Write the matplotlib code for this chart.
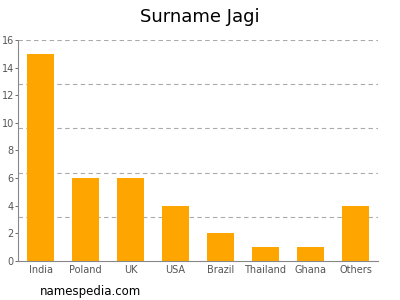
import matplotlib
matplotlib.use("Agg")
import matplotlib.pyplot as plt
import numpy as np

categories = ["India", "Poland", "UK", "USA", "Brazil", "Thailand", "Ghana", "Others"]
values = [15, 6, 6, 4, 2, 1, 1, 4]
yticks = [0, 2, 4, 6, 8, 10, 12, 14, 16]
grid_levels = [3.2, 6.4, 9.6, 12.8, 16]

fig = plt.figure(figsize=(4, 3), dpi=100)
ax = fig.add_axes([0.045, 0.13, 0.9, 0.737])
x = np.arange(len(categories))
ax.bar(x, values, width=0.62, color="#FFA500", zorder=2)
for g in grid_levels:
    ax.axhline(g, color="#AAAAAA", linestyle=(0, (4, 3)), linewidth=0.8, zorder=1)
ax.set_xlim(-0.5, len(categories) - 0.5)
ax.set_ylim(0, 16)
ax.set_yticks(yticks)
ax.set_xticks(x)
ax.set_xticklabels(categories)
ax.tick_params(axis="both", labelsize=7, colors="#555555", length=2, width=0.6, pad=1)
ax.tick_params(axis="x", length=0, pad=3)
for s in ["top", "right"]:
    ax.spines[s].set_visible(False)
for s in ["left", "bottom"]:
    ax.spines[s].set_color("#888888")
    ax.spines[s].set_linewidth(0.8)
fig.text(0.5, 0.945, "Surname Jagi", ha="center", va="center", fontsize=13, color="#000000")
fig.text(0.1, 0.027, "namespedia.com", ha="left", va="center", fontsize=8.5, color="#000000")
fig.savefig("out.png", dpi=100)
